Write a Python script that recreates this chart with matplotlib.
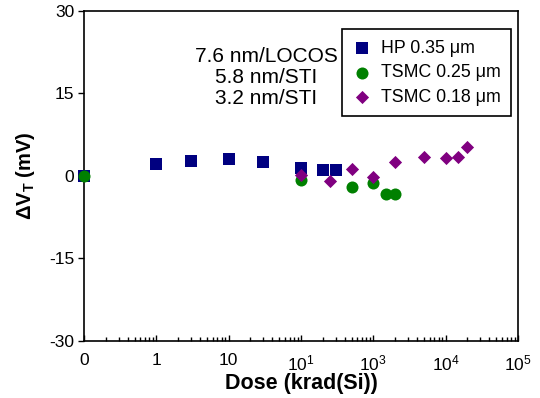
import matplotlib
matplotlib.use("Agg")
import matplotlib.pyplot as plt
from matplotlib.ticker import FixedLocator, FixedFormatter, NullFormatter

plt.rcParams['font.family'] = ['Liberation Sans', 'DejaVu Sans']
plt.rcParams['mathtext.fontset'] = 'custom'
plt.rcParams['mathtext.rm'] = 'Liberation Sans'
plt.rcParams['mathtext.it'] = 'Liberation Sans'
plt.rcParams['mathtext.bf'] = 'Liberation Sans:bold'

# Dose 0 is drawn at the left end of the log axis (0.1)
ZERO_POS = 0.1

hp_dose = [0, 1, 3, 10, 30, 100, 200, 300]
hp_dvt = [0, 2.15, 2.7, 3.1, 2.6, 1.4, 1.1, 1.1]

t25_dose = [0, 100, 500, 1000, 1500, 2000]
t25_dvt = [0, -0.75, -2.0, -1.25, -3.3, -3.3]

t18_dose = [100, 250, 500, 1000, 2000, 5000, 10000, 15000, 20000]
t18_dvt = [0.2, -0.9, 1.2, -0.15, 2.5, 3.5, 3.25, 3.4, 5.2]

xtick_vals = [0.1, 1, 10, 100, 1000, 1e4, 1e5]
xtick_labels = ['0', '1', '10', r'$10^1$', r'$10^3$', r'$10^4$', r'$10^5$']
ytick_vals = [-30, -15, 0, 15, 30]

def pos(d):
    return [ZERO_POS if v == 0 else v for v in d]

fig = plt.figure(figsize=(5.40, 3.98), dpi=100)
ax = fig.add_axes([0.1556, 0.144, 0.8037, 0.8284])

ax.scatter(pos(hp_dose), hp_dvt, marker='s', s=75, color='#000080',
           label='HP 0.35 μm', clip_on=False, zorder=3, linewidths=0)
ax.scatter(pos(t25_dose), t25_dvt, marker='o', s=75, color='#008000',
           label='TSMC 0.25 μm', clip_on=False, zorder=4, linewidths=0)
ax.scatter(pos(t18_dose), t18_dvt, marker='D', s=45, color='#800080',
           label='TSMC 0.18 μm', clip_on=False, zorder=5, linewidths=0)

ax.set_xscale('log')
ax.set_xlim(0.1, 1e5)
ax.set_ylim(-30, 30)

ax.xaxis.set_major_locator(FixedLocator(xtick_vals))
ax.xaxis.set_major_formatter(FixedFormatter(xtick_labels))
minors = [m * 10.0**e for e in range(-1, 5) for m in range(2, 10)]
ax.xaxis.set_minor_locator(FixedLocator(minors))
ax.xaxis.set_minor_formatter(NullFormatter())
ax.set_yticks(ytick_vals)
ax.set_yticklabels([str(v) for v in ytick_vals])

ax.tick_params(axis='x', which='major', direction='in', length=4, width=1,
               labelsize=12.5, pad=9, top=False)
ax.tick_params(axis='x', which='minor', direction='in', length=3, width=1, top=False)
ax.tick_params(axis='y', which='major', direction='out', length=4, width=1,
               labelsize=12.5, pad=3, right=False)

for sp in ax.spines.values():
    sp.set_linewidth(1.2)

ax.set_xlabel('Dose (krad(Si))', fontsize=15.5, fontweight='bold', labelpad=0)
ax.set_ylabel(r'$\mathbf{\Delta V_T}$ (mV)', fontsize=14.5, fontweight='bold', labelpad=9)

ax.text(0.42, 0.797, '7.6 nm/LOCOS\n5.8 nm/STI\n3.2 nm/STI', transform=ax.transAxes,
        ha='center', va='center', multialignment='center', fontsize=15,
        linespacing=1.13)

leg = ax.legend(loc='upper right', bbox_to_anchor=(0.984, 0.945), borderaxespad=0,
                fancybox=False, edgecolor='black', framealpha=1, fontsize=12.8,
                handletextpad=0.55, handlelength=1.0, labelspacing=0.42,
                borderpad=0.6, scatterpoints=1)
leg.get_frame().set_linewidth(1.2)

fig.savefig('out.png', dpi=100)
